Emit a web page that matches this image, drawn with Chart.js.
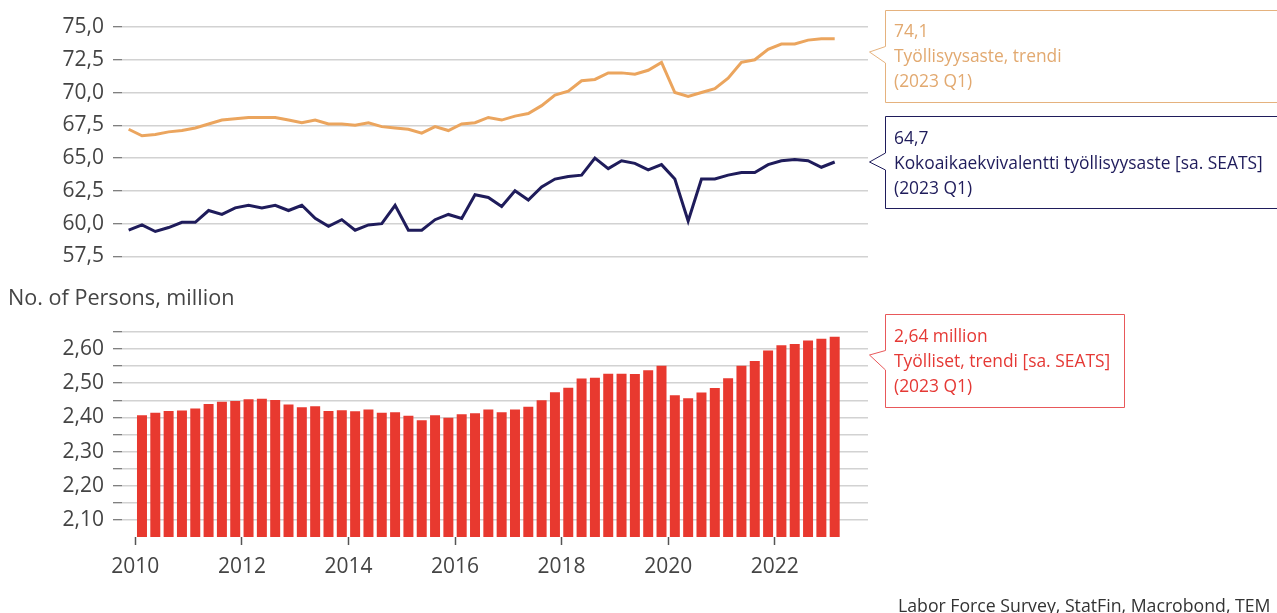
<!DOCTYPE html>
<html>
<head>
<meta charset="utf-8">
<script src="https://cdn.jsdelivr.net/npm/chart.js@4.4.1/dist/chart.umd.min.js"></script>
<style>
  html, body { margin: 0; padding: 0; background: #fff; overflow: hidden; }
  body { width: 1277px; height: 613px; position: relative; font-family: "Open Sans", sans-serif; }
  canvas { position: absolute; }
  .txt { position: absolute; white-space: nowrap; font-family: "Open Sans", sans-serif; }
  .call { position: absolute; font-size: 17.4px; line-height: 25px; white-space: nowrap; font-family: "Open Sans", sans-serif; }
  svg { position: absolute; left: 0; top: 0; }
</style>
</head>
<body>
<canvas id="top" width="880" height="278" style="left:0;top:0"></canvas>
<canvas id="bot" width="880" height="290" style="left:0;top:300px"></canvas>

<svg width="1277" height="613">
  <path d="M885.5 10.5 H1290 V102.5 H885.5 V63 L869.5 52 L885.5 46.5 Z" fill="#fff" stroke="#E5B27E" stroke-width="1"/>
  <path d="M885.5 116.5 H1290 V208.5 H885.5 V170 L869.5 162 L885.5 153 Z" fill="#fff" stroke="#1F1C5B" stroke-width="1"/>
  <path d="M885.5 314.5 H1124.5 V407.5 H885.5 V370 L869.5 355 L885.5 350.5 Z" fill="#fff" stroke="#E8585A" stroke-width="1"/>
</svg>

<div class="call" style="left:894px;top:18px;color:#E2A970">74,1<br>Työllisyysaste, trendi<br>(2023 Q1)</div>
<div class="call" style="left:894px;top:125px;color:#1F1C5B">64,7<br>Kokoaikaekvivalentti työllisyysaste [sa. SEATS]<br>(2023 Q1)</div>
<div class="call" style="left:894px;top:323px;color:#E53935">2,64 million<br>Työlliset, trendi [sa. SEATS]<br>(2023 Q1)</div>

<div class="txt" style="left:8px;top:282px;font-size:21.6px;line-height:29px;color:#444">No. of Persons, million</div>
<div class="txt" style="left:898px;top:594px;font-size:17.7px;line-height:22px;color:#333">Labor Force Survey, StatFin, Macrobond, TEM</div>

<script>
// ---------------- DATA ----------------
const quarters = [
  '2009Q4',
  '2010Q1','2010Q2','2010Q3','2010Q4',
  '2011Q1','2011Q2','2011Q3','2011Q4',
  '2012Q1','2012Q2','2012Q3','2012Q4',
  '2013Q1','2013Q2','2013Q3','2013Q4',
  '2014Q1','2014Q2','2014Q3','2014Q4',
  '2015Q1','2015Q2','2015Q3','2015Q4',
  '2016Q1','2016Q2','2016Q3','2016Q4',
  '2017Q1','2017Q2','2017Q3','2017Q4',
  '2018Q1','2018Q2','2018Q3','2018Q4',
  '2019Q1','2019Q2','2019Q3','2019Q4',
  '2020Q1','2020Q2','2020Q3','2020Q4',
  '2021Q1','2021Q2','2021Q3','2021Q4',
  '2022Q1','2022Q2','2022Q3','2022Q4',
  '2023Q1'
];
// Työllisyysaste, trendi (2009Q4 .. 2023Q1)
const employmentRate = [
  67.2, 66.7, 66.8, 67.0, 67.1, 67.3, 67.6, 67.9, 68.0, 68.1,
  68.1, 68.1, 67.9, 67.7, 67.9, 67.6, 67.6, 67.5, 67.7, 67.4,
  67.3, 67.2, 66.9, 67.4, 67.1, 67.6, 67.7, 68.1, 67.9, 68.2,
  68.4, 69.0, 69.8, 70.1, 70.9, 71.0, 71.5, 71.5, 71.4, 71.7,
  72.3, 70.0, 69.7, 70.0, 70.3, 71.1, 72.3, 72.5, 73.3, 73.7,
  73.7, 74.0, 74.1, 74.1
];
// Kokoaikaekvivalentti työllisyysaste [sa. SEATS] (2009Q4 .. 2023Q1)
const fteRate = [
  59.5, 59.9, 59.4, 59.7, 60.1, 60.1, 61.0, 60.7, 61.2, 61.4,
  61.2, 61.4, 61.0, 61.4, 60.4, 59.8, 60.3, 59.5, 59.9, 60.0,
  61.4, 59.5, 59.5, 60.3, 60.7, 60.4, 62.2, 62.0, 61.3, 62.5,
  61.8, 62.8, 63.4, 63.6, 63.7, 65.0, 64.2, 64.8, 64.6, 64.1,
  64.5, 63.4, 60.2, 63.4, 63.4, 63.7, 63.9, 63.9, 64.5, 64.8,
  64.9, 64.8, 64.3, 64.7
];
// Työlliset, trendi [sa. SEATS], million (2010Q1 .. 2023Q1)
const employed = [
  2.406, 2.414, 2.419, 2.420, 2.426, 2.439, 2.446, 2.448, 2.453, 2.455,
  2.451, 2.438, 2.430, 2.433, 2.419, 2.421, 2.418, 2.423, 2.414, 2.415,
  2.405, 2.392, 2.406, 2.399, 2.409, 2.412, 2.423, 2.415, 2.423, 2.431,
  2.450, 2.474, 2.487, 2.514, 2.516, 2.528, 2.528, 2.527, 2.538, 2.551,
  2.465, 2.456, 2.473, 2.486, 2.515, 2.551, 2.565, 2.596, 2.611, 2.615,
  2.625, 2.630, 2.636
];
const employedStart = '2010Q1';
const yearLabels = ['2010','2012','2014','2016','2018','2020','2022'];
const topTicks = [57.5, 60.0, 62.5, 65.0, 67.5, 70.0, 72.5, 75.0];
const botTicks = [2.10, 2.15, 2.20, 2.25, 2.30, 2.35, 2.40, 2.45, 2.50, 2.55, 2.60, 2.65];
const botTickLabels = ['2,10','','2,20','','2,30','','2,40','','2,50','','2,60',''];

// ---------------- STYLE ----------------
const FONT = '"Open Sans", sans-serif';
const GRID = '#d2d2d2';
const TICKC = '#555';
const LABELC = '#444';
const X_MIN = 0, X_MAX = 56;   // slots: 2009Q4 .. 2023Q3

const lineSeries = (arr) => arr.map((v, i) => ({ x: i + 0.5, y: v }));
const barOffset = quarters.indexOf(employedStart);
const barSeries = employed.map((v, i) => ({ x: barOffset + i + 0.5, y: v }));
const yearTickValues = yearLabels.map(y => quarters.indexOf(y + 'Q1'));

const fmt1 = v => v.toFixed(1).replace('.', ',');

new Chart(document.getElementById('top'), {
  type: 'line',
  data: {
    datasets: [
      { data: lineSeries(employmentRate), borderColor: '#EBA55E', borderWidth: 3, pointRadius: 0, tension: 0 },
      { data: lineSeries(fteRate), borderColor: '#1F1C5B', borderWidth: 3, pointRadius: 0, tension: 0 }
    ]
  },
  options: {
    responsive: false, animation: false, devicePixelRatio: 1,
    layout: { padding: { top: 27, bottom: 14, right: 12, left: 0 } },
    plugins: { legend: { display: false }, tooltip: { enabled: false } },
    scales: {
      x: { type: 'linear', min: X_MIN, max: X_MAX, display: false },
      y: {
        min: 57.5, max: 75,
        afterBuildTicks: s => { s.ticks = topTicks.map(v => ({ value: v })); },
        afterFit: s => { s.width = 122; },
        border: { display: false },
        grid: { color: GRID, lineWidth: 1.5, tickLength: 9, tickColor: TICKC, tickWidth: 1 },
        ticks: { padding: 9, color: LABELC, font: { family: FONT, size: 21 }, callback: v => fmt1(v) }
      }
    }
  }
});

new Chart(document.getElementById('bot'), {
  type: 'bar',
  data: {
    datasets: [
      { data: barSeries, backgroundColor: '#E8392F', borderWidth: 0, categoryPercentage: 1.0, barPercentage: 0.75 }
    ]
  },
  options: {
    responsive: false, animation: false, devicePixelRatio: 1,
    layout: { padding: { top: 32, bottom: 13, right: 12, left: 0 } },
    plugins: { legend: { display: false }, tooltip: { enabled: false } },
    scales: {
      x: {
        type: 'linear', min: X_MIN, max: X_MAX, offset: false,
        afterBuildTicks: s => { s.ticks = yearTickValues.map(v => ({ value: v })); },
        afterFit: s => { s.height = 40; },
        border: { display: false },
        grid: { offset: false, drawOnChartArea: false, tickLength: 8, tickColor: TICKC, tickWidth: 1.5 },
        ticks: { padding: 9, color: LABELC, maxRotation: 0, autoSkip: false, font: { family: FONT, size: 21 },
          callback: v => yearLabels[yearTickValues.indexOf(v)] }
      },
      y: {
        min: 2.05, max: 2.65,
        afterBuildTicks: s => { s.ticks = botTicks.map(v => ({ value: v })); },
        afterFit: s => { s.width = 122; },
        border: { display: false },
        grid: { color: GRID, lineWidth: 1.5, tickLength: 9, tickColor: TICKC, tickWidth: 1 },
        ticks: { padding: 9, color: LABELC, autoSkip: false, font: { family: FONT, size: 21 },
          callback: (v, i) => botTickLabels[botTicks.findIndex(t => Math.abs(t - v) < 1e-6)] }
      }
    }
  }
});
</script>
</body>
</html>
